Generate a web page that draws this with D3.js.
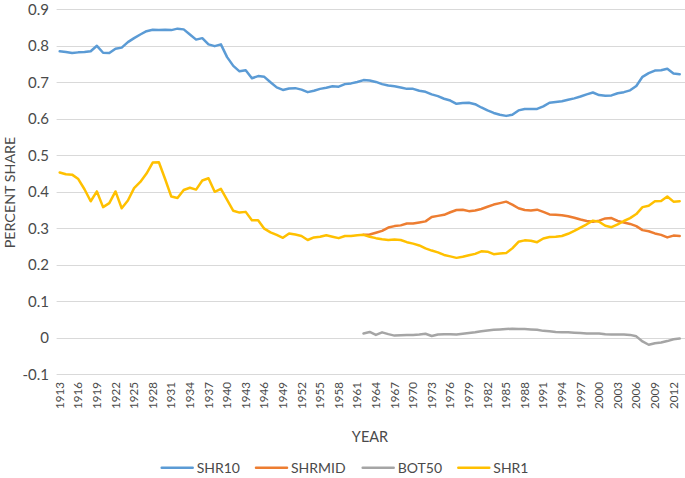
<!DOCTYPE html>
<html>
<head>
<meta charset="utf-8">
<script src="https://cdn.jsdelivr.net/npm/d3@7"></script>
<style>
  body { margin: 0; background: #fff; }
  text { font-family: Lato, "Open Sans", sans-serif; fill: #4a4a4a; }
</style>
</head>
<body>
<div id="chart"></div>
<script>
const firstYear = 1913;
const lastYear = 2013;
const midStart = 1962;

const shr10 = [0.785, 0.783, 0.780, 0.782, 0.783, 0.785, 0.800, 0.781, 0.780, 0.792,
    0.795, 0.810, 0.821, 0.831, 0.840, 0.844, 0.843, 0.844, 0.843, 0.847,
    0.845, 0.831, 0.817, 0.821, 0.804, 0.799, 0.804, 0.769, 0.745, 0.730,
    0.733, 0.711, 0.717, 0.715, 0.700, 0.686, 0.679, 0.683, 0.684, 0.680,
    0.673, 0.677, 0.682, 0.685, 0.689, 0.688, 0.695, 0.697, 0.701, 0.706,
    0.705, 0.701, 0.695, 0.691, 0.689, 0.686, 0.682, 0.682, 0.677, 0.674,
    0.667, 0.662, 0.655, 0.650, 0.641, 0.643, 0.644, 0.640, 0.631, 0.623,
    0.616, 0.611, 0.608, 0.611, 0.623, 0.627, 0.627, 0.627, 0.634, 0.644,
    0.646, 0.648, 0.652, 0.656, 0.661, 0.667, 0.672, 0.665, 0.663, 0.664,
    0.670, 0.673, 0.678, 0.690, 0.715, 0.725, 0.732, 0.733, 0.737, 0.724,
    0.722];

const shr1 = [0.453, 0.448, 0.447, 0.435, 0.407, 0.374, 0.401, 0.358, 0.369, 0.401,
    0.355, 0.376, 0.410, 0.427, 0.450, 0.480, 0.481, 0.435, 0.387, 0.383,
    0.405, 0.411, 0.406, 0.431, 0.437, 0.400, 0.408, 0.378, 0.348, 0.343,
    0.345, 0.322, 0.322, 0.299, 0.289, 0.282, 0.274, 0.286, 0.283, 0.279,
    0.268, 0.275, 0.277, 0.281, 0.277, 0.273, 0.279, 0.279, 0.281, 0.282,
    0.277, 0.273, 0.270, 0.268, 0.269, 0.268, 0.262, 0.258, 0.253, 0.245,
    0.239, 0.234, 0.227, 0.223, 0.219, 0.222, 0.226, 0.230, 0.237, 0.236,
    0.229, 0.231, 0.232, 0.245, 0.263, 0.267, 0.266, 0.262, 0.272, 0.276,
    0.277, 0.279, 0.285, 0.293, 0.302, 0.311, 0.321, 0.318, 0.307, 0.303,
    0.311, 0.320, 0.328, 0.339, 0.358, 0.362, 0.374, 0.375, 0.387, 0.373,
    0.374];

// 1962-2013
const shrmid = [0.282, 0.283, 0.288, 0.293, 0.302, 0.306, 0.308, 0.313, 0.313, 0.316,
    0.319, 0.331, 0.334, 0.337, 0.344, 0.350, 0.351, 0.347, 0.349, 0.353,
    0.359, 0.365, 0.369, 0.373, 0.365, 0.355, 0.350, 0.349, 0.351, 0.345,
    0.338, 0.337, 0.336, 0.333, 0.329, 0.324, 0.320, 0.318, 0.321, 0.327,
    0.328, 0.320, 0.316, 0.312, 0.306, 0.295, 0.292, 0.286, 0.282, 0.275,
    0.280, 0.279];

const bot50 = [0.012, 0.016, 0.008, 0.015, 0.010, 0.006, 0.007, 0.008, 0.008, 0.009,
    0.011, 0.005, 0.009, 0.010, 0.010, 0.009, 0.011, 0.013, 0.015, 0.018,
    0.020, 0.022, 0.023, 0.024, 0.025, 0.024, 0.024, 0.023, 0.022, 0.019,
    0.018, 0.016, 0.015, 0.015, 0.014, 0.013, 0.012, 0.012, 0.012, 0.010,
    0.009, 0.009, 0.009, 0.008, 0.004, -0.010, -0.019, -0.015, -0.013, -0.009,
    -0.004, -0.002];

const yTicks = [-0.1, 0, 0.1, 0.2, 0.3, 0.4, 0.5, 0.6, 0.7, 0.8, 0.9];

const years = d3.range(firstYear, lastYear + 1);
const tickYears = years.filter((y, i) => i % 3 === 0);

const series = [
    {name: 'SHR10', color: '#5B9BD5', start: firstYear, values: shr10},
    {name: 'SHRMID', color: '#ED7D31', start: midStart, values: shrmid},
    {name: 'BOT50', color: '#A5A5A5', start: midStart, values: bot50},
    {name: 'SHR1', color: '#FFC000', start: firstYear, values: shr1}
];

const width = 685, height = 478;
const plot = {left: 56.6, right: 682.8, top: 9.3, bottom: 374.3};

const svg = d3.select('#chart').append('svg')
    .attr('width', width)
    .attr('height', height);

const x = d3.scaleBand()
    .domain(years)
    .range([plot.left, plot.right]);

const y = d3.scaleLinear()
    .domain([-0.1, 0.9])
    .range([plot.bottom, plot.top]);

const cx = yr => x(yr) + x.bandwidth() / 2;

// horizontal gridlines
svg.append('g')
    .selectAll('line')
    .data(yTicks)
    .enter().append('line')
    .attr('x1', plot.left)
    .attr('x2', width)
    .attr('y1', d => Math.round(y(d)) + 0.5)
    .attr('y2', d => Math.round(y(d)) + 0.5)
    .style('stroke', '#d9d9d9')
    .style('stroke-width', 1);

// y axis labels
svg.append('g')
    .selectAll('text')
    .data(yTicks)
    .enter().append('text')
    .attr('x', 49)
    .attr('y', d => y(d))
    .attr('dy', '0.36em')
    .style('text-anchor', 'end')
    .style('font-size', '15px')
    .text(d => d3.format('.1f')(d).replace('0.0', '0').replace('−', '-'));

// x axis labels
svg.append('g')
    .selectAll('text')
    .data(tickYears)
    .enter().append('text')
    .attr('transform', d => `translate(${cx(d)},382) rotate(-90)`)
    .attr('dy', '0.36em')
    .style('text-anchor', 'end')
    .style('font-size', '11.6px')
    .text(d => d);

// axis titles
svg.append('text')
    .attr('transform', 'translate(9.5,192.5) rotate(-90)')
    .attr('dy', '0.36em')
    .style('text-anchor', 'middle')
    .style('font-size', '14.3px')
    .text('PERCENT SHARE');

svg.append('text')
    .attr('x', 370)
    .attr('y', 441.5)
    .style('text-anchor', 'middle')
    .style('font-size', '14.5px')
    .text('YEAR');

const line = d3.line()
    .x(d => cx(d.year))
    .y(d => y(d.value));

series.forEach(s => {
    const pts = s.values.map((v, i) => ({year: s.start + i, value: v}));
    svg.append('path')
        .datum(pts)
        .attr('fill', 'none')
        .attr('stroke', s.color)
        .attr('stroke-width', 2.5)
        .attr('stroke-linejoin', 'round')
        .attr('stroke-linecap', 'round')
        .attr('d', line);
});

// legend
const legendX = [161.7, 256, 362.7, 458.3];
const legend = svg.append('g');
series.forEach((s, i) => {
    legend.append('line')
        .attr('x1', legendX[i])
        .attr('x2', legendX[i] + 31)
        .attr('y1', 467.7)
        .attr('y2', 467.7)
        .style('stroke', s.color)
        .style('stroke-width', 2.5)
        .style('stroke-linecap', 'round');
    legend.append('text')
        .attr('x', legendX[i] + 35)
        .attr('y', 467.7)
        .attr('dy', '0.36em')
        .style('font-size', '14px')
        .text(s.name);
});
</script>
</body>
</html>
